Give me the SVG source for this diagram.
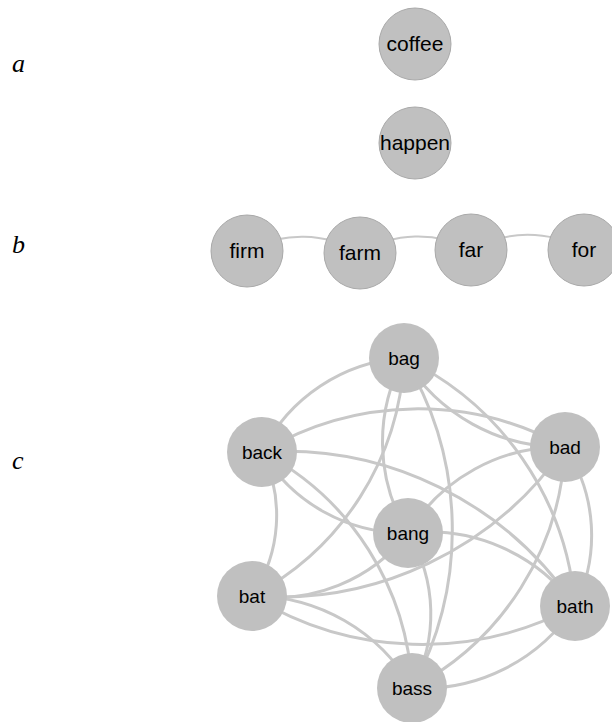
<svg xmlns="http://www.w3.org/2000/svg" width="612" height="722" viewBox="0 0 612 722">
  <style>
    .panel { font-family: "Liberation Serif", "Times New Roman", serif; font-style: italic; font-size: 26px; fill: #000; }
    .node circle { fill: #c0c0c0; }
    .ab circle { stroke: #a9a9a9; stroke-width: 1; }
    .node text { font-family: "Liberation Sans", Arial, sans-serif; fill: #000; text-anchor: middle; }
    .ab text { font-size: 21px; }
    .c text { font-size: 19px; }
    .links-b path { fill: none; stroke: #c8c8c8; stroke-width: 2; }
    .links-c path { fill: none; stroke: #c8c8c8; stroke-width: 3; }
  </style>

  <rect width="612" height="722" fill="#fff"/>

  <!-- panel letters -->
  <text class="panel" x="12" y="72">a</text>
  <text class="panel" x="12" y="253">b</text>
  <text class="panel" x="12" y="469">c</text>

  <!-- connectors: arcs whose radius equals the distance between the two centres -->
  <g id="links-b" class="links-b">
    <path d="M247,251 A113,113 0 0 1 360,253"/>
    <path d="M360,253 A111,111 0 0 1 471,250"/>
    <path d="M471,250 A113,113 0 0 1 584,250"/>
  </g>

  <g id="links-c" class="links-c">
    <path d="M262,452 A170.3,170.3 0 0 1 404,358"/>
    <path d="M565,447 A184,184 0 0 1 404,358"/>
    <path d="M404,358 A301.2,301.2 0 0 1 575,606"/>
    <path d="M404,358 A330.1,330.1 0 0 1 412,688"/>
    <path d="M408,533 A175,175 0 0 1 404,358"/>
    <path d="M404,358 A282.4,282.4 0 0 1 252,596"/>
    <path d="M262,452 A303,303 0 0 1 565,447"/>
    <path d="M408,533 A167,167 0 0 1 262,452"/>
    <path d="M262,452 A144.3,144.3 0 0 1 252,596"/>
    <path d="M262,452 A348.8,348.8 0 0 1 575,606"/>
    <path d="M262,452 A279.6,279.6 0 0 1 412,688"/>
    <path d="M408,533 A179,179 0 0 1 565,447"/>
    <path d="M565,447 A346.7,346.7 0 0 1 252,596"/>
    <path d="M565,447 A159.3,159.3 0 0 1 575,606"/>
    <path d="M565,447 A285.5,285.5 0 0 1 412,688"/>
    <path d="M408,533 A168.2,168.2 0 0 1 252,596"/>
    <path d="M408,533 A182.3,182.3 0 0 1 575,606"/>
    <path d="M408,533 A155.1,155.1 0 0 1 412,688"/>
    <path d="M575,606 A323.2,323.2 0 0 1 252,596"/>
    <path d="M252,596 A184.6,184.6 0 0 1 412,688"/>
    <path d="M575,606 A182.5,182.5 0 0 1 412,688"/>
  </g>

  <!-- a: isolated words -->
  <g id="coffee" class="node ab"><circle cx="415" cy="44" r="36"/><text x="415" y="51">coffee</text></g>
  <g id="happen" class="node ab"><circle cx="415" cy="143" r="36"/><text x="415" y="150">happen</text></g>

  <!-- b: chain -->
  <g id="firm" class="node ab"><circle cx="247" cy="251" r="36"/><text x="247" y="258">firm</text></g>
  <g id="farm" class="node ab"><circle cx="360" cy="253" r="36"/><text x="360" y="260">farm</text></g>
  <g id="far" class="node ab"><circle cx="471" cy="250" r="36"/><text x="471" y="257">far</text></g>
  <g id="for" class="node ab"><circle cx="584" cy="250" r="36"/><text x="584" y="257">for</text></g>

  <!-- c: fully connected neighbourhood -->
  <g id="bag" class="node c"><circle cx="404" cy="358" r="35"/><text x="404" y="365">bag</text></g>
  <g id="back" class="node c"><circle cx="262" cy="452" r="35"/><text x="262" y="459">back</text></g>
  <g id="bad" class="node c"><circle cx="565" cy="447" r="35"/><text x="565" y="454">bad</text></g>
  <g id="bang" class="node c"><circle cx="408" cy="533" r="35"/><text x="408" y="540">bang</text></g>
  <g id="bat" class="node c"><circle cx="252" cy="596" r="35"/><text x="252" y="603">bat</text></g>
  <g id="bath" class="node c"><circle cx="575" cy="606" r="35"/><text x="575" y="613">bath</text></g>
  <g id="bass" class="node c"><circle cx="412" cy="688" r="35"/><text x="412" y="695">bass</text></g>
</svg>
